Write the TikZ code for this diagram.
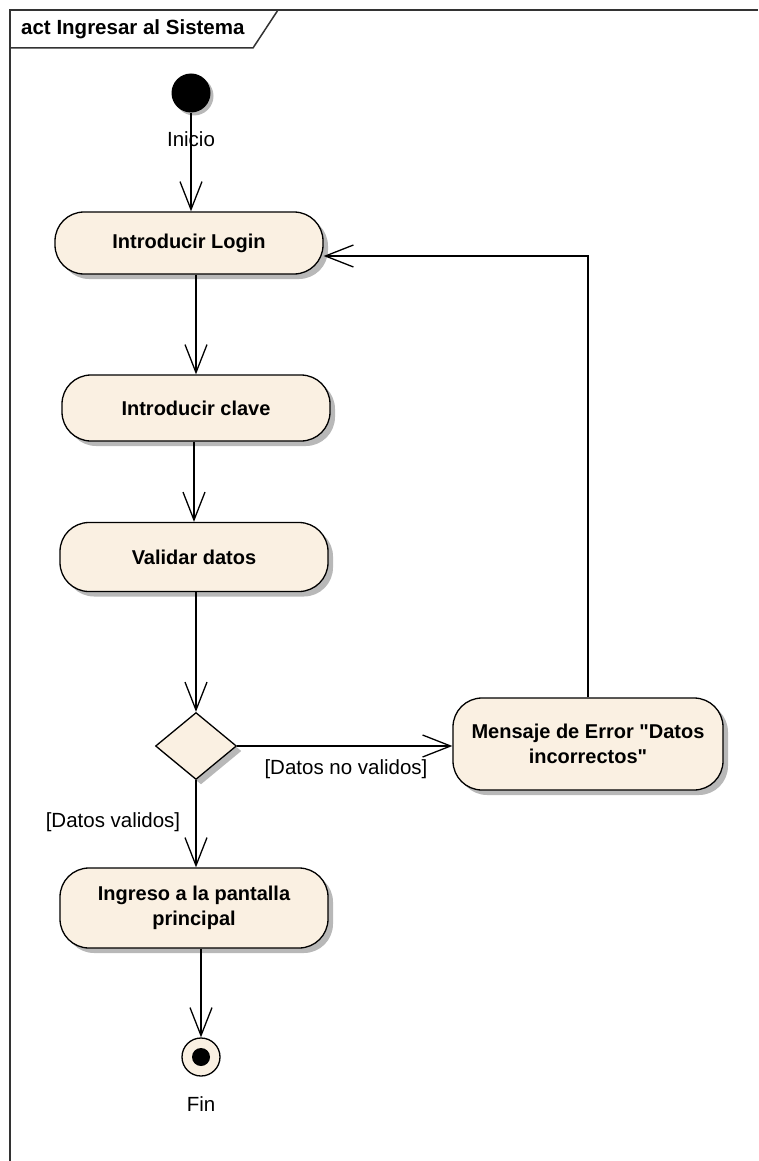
\documentclass[tikz,border=0pt]{standalone}
\usepackage{fontspec}
\setmainfont{Liberation Sans}[Ligatures=TeXOff]
\usetikzlibrary{arrows.meta,shapes.geometric,shadows,calc}
\definecolor{nodefill}{RGB}{250,240,226}
\begin{document}
\begin{tikzpicture}[x=1pt,y=-1pt,
  shadowed/.style={drop shadow={shadow xshift=5pt, shadow yshift=-5pt, fill=black!28, opacity=1}},
  act/.style={rectangle, rounded corners=29pt, draw=black, line width=1.3pt, fill=nodefill,
    font=\fontsize{20}{25}\selectfont\bfseries, align=center, inner sep=0pt, shadowed},
  decision/.style={diamond, draw=black, line width=1.3pt, fill=nodefill, inner sep=0pt,
    minimum width=81pt, minimum height=67pt, shadowed},
  lbl/.style={font=\fontsize{20.5}{23}\selectfont, inner sep=0pt},
  flow/.style={line width=1.3pt, -{Straight Barb[length=28pt,width=22pt,line width=1.3pt]}},
  frameline/.style={draw=black!80, line width=1.5pt}
]
\useasboundingbox (0,0) rectangle (758,1161);
% frame
\draw[frameline] (10,1161) -- (10,10) -- (758,10);
\draw[frameline] (10,48) -- (253,48) -- (278,10);
\node[anchor=west, font=\fontsize{20.5}{23}\selectfont\bfseries, inner sep=0pt] (title) at (21,29) {act Ingresar al Sistema};

% nodes
\node[circle, fill=black, minimum size=39pt, inner sep=0pt,
  drop shadow={shadow xshift=3pt, shadow yshift=-3pt, fill=black!28, opacity=1}] (start) at (191,93) {};
\node[lbl] (inicio) at (191,139) {Inicio};
\node[act, minimum width=268pt, minimum height=62pt] (login) at (189,243) {Introducir Login};
\node[act, minimum width=268pt, minimum height=66pt] (clave) at (196,408) {Introducir clave};
\node[act, minimum width=268pt, minimum height=69pt] (validar) at (194,557) {Validar datos};
\node[decision] (dec) at (196,746) {};
\node[act, minimum width=270pt, minimum height=92pt] (mensaje) at (588,744) {Mensaje de Error "Datos\\incorrectos"};
\node[act, minimum width=268pt, minimum height=80pt] (ingreso) at (194,908) {Ingreso a la pantalla\\principal};
\node[circle, draw=black, line width=1.3pt, fill=nodefill, minimum size=38pt, inner sep=0pt] (final) at (201,1057) {};
\node[circle, fill=black, minimum size=18pt, inner sep=0pt] (finaldot) at (final.center) {};
\node[lbl] (fin) at (201,1104) {Fin};
\node[lbl] (noval) at (346,769) {[Datos no validos]};
\node[lbl] (val) at (113,822) {[Datos validos]};

% connectors
\draw[flow] (start.south) -- (start.south |- login.north);
\draw[flow] (clave.north |- login.south) -- (clave.north);
\draw[flow] (validar.north |- clave.south) -- (validar.north);
\draw[flow] (dec.north |- validar.south) -- (dec.north);
\draw[flow] (dec.east) -- (dec.east -| mensaje.west);
\draw[flow] (mensaje.north) |- ($(login.east)+(0,13)$);
\draw[flow] (dec.south) -- (dec.south |- ingreso.north);
\draw[flow] (final.north |- ingreso.south) -- (final.north);
\end{tikzpicture}
\end{document}
